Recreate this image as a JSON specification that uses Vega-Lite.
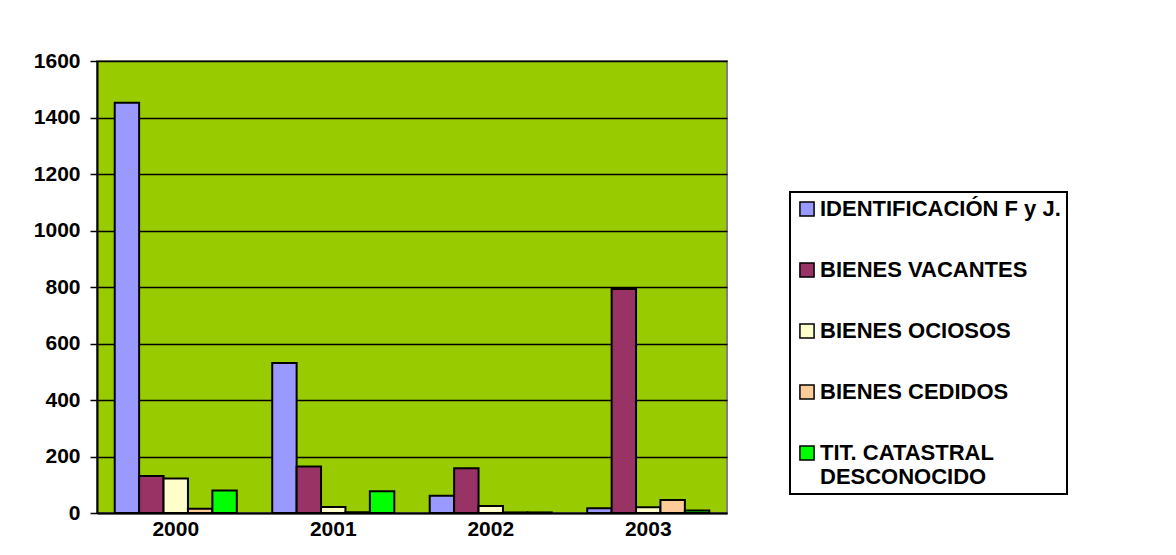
{
  "$schema": "https://vega.github.io/schema/vega-lite/v6.json",
  "width": 630,
  "height": 452,
  "autosize": {"type": "none"},
  "padding": {"left": 97, "top": 61, "right": 449, "bottom": 42},
  "background": "white",
  "config": {
    "font": "Liberation Sans",
    "view": {"fill": "#99CC00", "stroke": "#808080", "strokeWidth": 2},
    "axis": {"labelFont": "Liberation Sans", "labelFontWeight": "bold", "labelFontSize": 21, "labelColor": "#000000", "domainColor": "#000000", "tickColor": "#000000"}
  },
  "data": {
    "values": [
      {"year": "2000", "cat": "IDENTIFICACIÓN F y J.", "v": 1452},
      {"year": "2000", "cat": "BIENES VACANTES", "v": 131},
      {"year": "2000", "cat": "BIENES OCIOSOS", "v": 122},
      {"year": "2000", "cat": "BIENES CEDIDOS", "v": 15},
      {"year": "2000", "cat": "TIT. CATASTRAL DESCONOCIDO", "v": 80},
      {"year": "2001", "cat": "IDENTIFICACIÓN F y J.", "v": 531},
      {"year": "2001", "cat": "BIENES VACANTES", "v": 165},
      {"year": "2001", "cat": "BIENES OCIOSOS", "v": 21},
      {"year": "2001", "cat": "BIENES CEDIDOS", "v": 3},
      {"year": "2001", "cat": "TIT. CATASTRAL DESCONOCIDO", "v": 77},
      {"year": "2002", "cat": "IDENTIFICACIÓN F y J.", "v": 61},
      {"year": "2002", "cat": "BIENES VACANTES", "v": 158},
      {"year": "2002", "cat": "BIENES OCIOSOS", "v": 25},
      {"year": "2002", "cat": "BIENES CEDIDOS", "v": 2},
      {"year": "2002", "cat": "TIT. CATASTRAL DESCONOCIDO", "v": 2},
      {"year": "2003", "cat": "IDENTIFICACIÓN F y J.", "v": 17},
      {"year": "2003", "cat": "BIENES VACANTES", "v": 793},
      {"year": "2003", "cat": "BIENES OCIOSOS", "v": 20},
      {"year": "2003", "cat": "BIENES CEDIDOS", "v": 46},
      {"year": "2003", "cat": "TIT. CATASTRAL DESCONOCIDO", "v": 9}
    ]
  },
  "mark": {"type": "bar", "stroke": "#000000", "strokeWidth": 2},
  "encoding": {
    "x": {
      "field": "year", "type": "nominal", "title": null,
      "scale": {"paddingInner": 0.225, "paddingOuter": 0.1125},
      "axis": {"labelAngle": 0, "ticks": false, "labelPadding": 5, "domainWidth": 2}
    },
    "xOffset": {
      "field": "cat", "type": "nominal",
      "sort": ["IDENTIFICACIÓN F y J.", "BIENES VACANTES", "BIENES OCIOSOS", "BIENES CEDIDOS", "TIT. CATASTRAL DESCONOCIDO"],
      "scale": {"paddingInner": 0, "paddingOuter": 0}
    },
    "y": {
      "field": "v", "type": "quantitative", "title": null,
      "scale": {"domain": [0, 1600], "nice": false},
      "axis": {"values": [0, 200, 400, 600, 800, 1000, 1200, 1400, 1600], "format": "d", "grid": true, "gridColor": "#000000", "gridWidth": 1.5, "gridOpacity": 1, "tickSize": 7, "tickWidth": 1.5, "labelPadding": 10, "domainWidth": 2}
    },
    "color": {
      "field": "cat", "type": "nominal", "title": null,
      "sort": ["IDENTIFICACIÓN F y J.", "BIENES VACANTES", "BIENES OCIOSOS", "BIENES CEDIDOS", "TIT. CATASTRAL DESCONOCIDO"],
      "scale": {
        "domain": ["IDENTIFICACIÓN F y J.", "BIENES VACANTES", "BIENES OCIOSOS", "BIENES CEDIDOS", "TIT. CATASTRAL DESCONOCIDO"],
        "range": ["#9999FF", "#993366", "#FFFFCC", "#FFCC99", "#00FF00"]
      },
      "legend": {
        "orient": "none",
        "legendX": 693,
        "legendY": 131,
        "strokeColor": "#000000",
        "fillColor": "#FFFFFF",
        "padding": 6,
        "symbolType": "square",
        "symbolSize": 200,
        "symbolStrokeColor": "#000000",
        "symbolStrokeWidth": 1.5,
        "labelFont": "Liberation Sans",
        "labelFontWeight": "bold",
        "labelFontSize": 22,
        "labelColor": "#000000",
        "labelOffset": 2,
        "labelLimit": 400,
        "rowPadding": 39,
        "encode": {"legend": {"update": {"strokeWidth": {"value": 2}}}},
        "labelExpr": "datum.label == 'TIT. CATASTRAL DESCONOCIDO' ? ['TIT. CATASTRAL', 'DESCONOCIDO'] : datum.label"
      }
    }
  }
}
